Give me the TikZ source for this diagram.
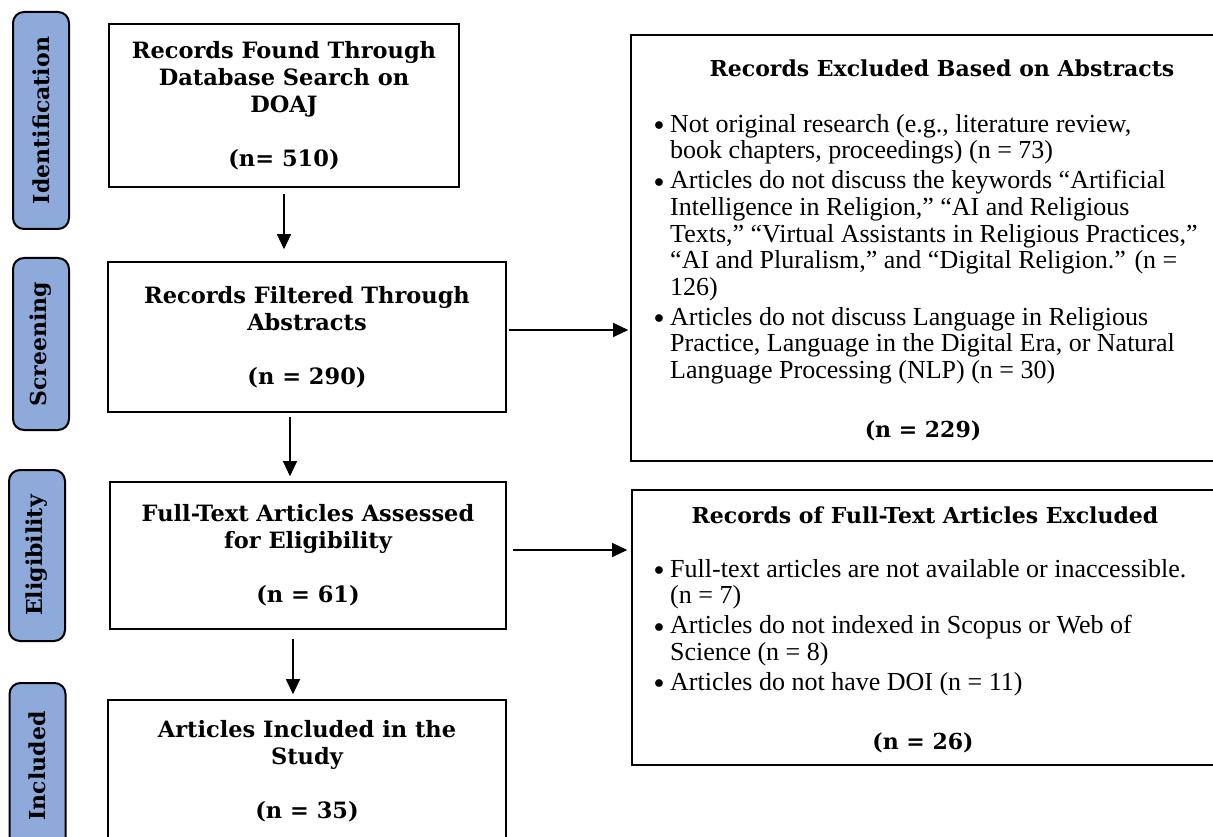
\documentclass[tikz,border=0pt]{standalone}
\usepackage{fontspec}
\setmainfont{Liberation Serif}
\newfontfamily\headfont{DejaVu Serif}
\usetikzlibrary{arrows.meta}
\definecolor{phasecol}{RGB}{142,170,219}
\newcommand\exitem{\makebox[16pt][l]{\raisebox{1.5pt}{\scalebox{0.8}{$\bullet$}}}}
\newcommand\exindent{\hspace*{16pt}}

\begin{document}
\begin{tikzpicture}[x=1pt,y=-1pt,
  phase/.style={draw,fill=phasecol,rounded corners=11pt,line width=2pt,rotate=90,minimum height=56pt,inner sep=0pt,font=\headfont\bfseries\fontsize{22}{26}\selectfont},
  box/.style={draw,line width=1.6pt,inner sep=0pt,align=center,font=\headfont\bfseries\fontsize{22.5}{27}\selectfont},
  exbox/.style={draw,line width=1.6pt,inner sep=0pt},
  head/.style={anchor=base,inner sep=0pt,font=\headfont\bfseries\fontsize{22}{26}\selectfont},
  list/.style={anchor=north west,align=left,inner sep=0pt,font=\fontsize{26}{26.7}\selectfont},
  flow/.style={line width=1.2pt,-{Triangle[length=15pt,width=14pt]}}]
\useasboundingbox (0,0) rectangle (1213,837);
\clip (0,0) rectangle (1213,837);
\node[phase,minimum width=217pt] (lid) at (41,120.5) {Identification};
\node[phase,minimum width=172pt] (lscr) at (41,344) {Screening};
\node[phase,minimum width=171pt] (lelig) at (37,555.5) {Eligibility};
\node[phase,minimum width=166pt] (lincl) at (37.5,766) {Included};
\node[box,minimum width=350pt,minimum height=163pt] (found) at (284,105.5) {Records Found Through\\Database Search on\\DOAJ\\[27pt](n= 510)};
\node[box,minimum width=398pt,minimum height=150pt] (filtered) at (307,337) {Records Filtered Through\\Abstracts\\[27pt](n = 290)};
\node[box,minimum width=396pt,minimum height=147pt] (assessed) at (308,555.5) {Full-Text Articles Assessed\\for Eligibility\\[27pt](n = 61)};
\node[box,minimum width=398pt,minimum height=142pt] (included) at (307,771) {Articles Included in the\\Study\\[27pt](n = 35)};
\node[exbox,minimum width=640pt,minimum height=426pt] (exabs) at (951,248) {};
\node[exbox,minimum width=640pt,minimum height=275pt] (exfull) at (952,627.5) {};
\path (942,77) node[head] (habs) {Records Excluded Based on Abstracts}
      (923,437) node[head] (nabs) {(n = 229)}
      (925,523) node[head] (hfull) {Records of Full-Text Articles Excluded}
      (923,749) node[head] (nfull) {(n = 26)};
\node[list] (labs) at (654,114) {\exitem Not original research (e.g., literature review,\\
  \exindent book chapters, proceedings) (n = 73)\\[3pt]
  \exitem Articles do not discuss the keywords “Artificial\\
  \exindent Intelligence in Religion,” “AI and Religious\\
  \exindent Texts,” “Virtual Assistants in Religious Practices,”\\
  \exindent “AI and Pluralism,” and “Digital Religion.” (n =\\
  \exindent 126)\\[3pt]
  \exitem Articles do not discuss Language in Religious\\
  \exindent Practice, Language in the Digital Era, or Natural\\
  \exindent Language Processing (NLP) (n = 30)};
\node[list] (lfull) at (654,559) {\exitem Full-text articles are not available or inaccessible.\\
  \exindent (n = 7)\\[3pt]
  \exitem Articles do not indexed in Scopus or Web of\\
  \exindent Science (n = 8)\\[3pt]
  \exitem Articles do not have DOI (n = 11)};
\draw[flow,shorten <=6pt,shorten >=12pt] (found.south) -- (found.south |- filtered.north);
\draw[flow,shorten <=4pt,shorten >=5pt] ([xshift=-17pt]filtered.south) -- ([xshift=-17pt]filtered.south |- assessed.north);
\draw[flow,shorten <=9pt,shorten >=5pt] ([xshift=-15pt]assessed.south) -- ([xshift=-15pt]assessed.south |- included.north);
\draw[flow,shorten <=2pt,shorten >=2pt] ([yshift=7pt]filtered.east) -- ([yshift=7pt]filtered.east -| exabs.west);
\draw[flow,shorten <=6pt,shorten >=4pt] ([yshift=5.5pt]assessed.east) -- ([yshift=5.5pt]assessed.east -| exfull.west);
\end{tikzpicture}
\end{document}
